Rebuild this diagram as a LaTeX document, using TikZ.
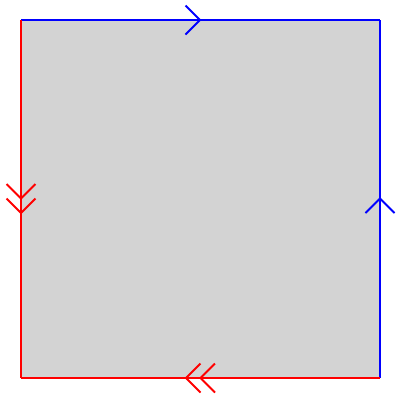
\documentclass[tikz,border=0pt]{standalone}
\usetikzlibrary{calc}
\definecolor{sqfill}{RGB}{211,211,211}
\definecolor{edgeblue}{RGB}{0,0,255}
\definecolor{edgered}{RGB}{255,0,0}
\tikzset{
  edgeline/.style={line width=2pt, line cap=butt},
  chev/.style={line width=1.8pt},
}
\begin{document}
\begin{tikzpicture}[x=1pt,y=-1pt]
\useasboundingbox (0,0) rectangle (400,400);
\coordinate (TL) at (21,20);
\coordinate (TR) at (380,20);
\coordinate (BR) at (380,378);
\coordinate (BL) at (21,378);
\fill[sqfill] (TL) -- (TR) -- (BR) -- (BL) -- cycle;
\draw[edgeline, edgeblue] (TL) -- (TR);
\draw[edgeline, edgeblue] (BR) -- (TR);
\draw[edgeline, edgered] (TL) -- (BL);
\draw[edgeline, edgered] (BR) -- (BL);
% top arrow (right)
\coordinate (ta) at (200,20);
\draw[chev, edgeblue] ($(ta)+(-14.5,-14.5)$) -- (ta) -- ($(ta)+(-14.5,14.5)$);
% right arrow (up)
\coordinate (ra) at (380,198.5);
\draw[chev, edgeblue] ($(ra)+(-14.5,14.5)$) -- (ra) -- ($(ra)+(14.5,14.5)$);
% left double arrow (down)
\coordinate (la1) at (21,198.5);
\coordinate (la2) at (21,213);
\draw[chev, edgered] ($(la1)+(-14.5,-14.5)$) -- (la1) -- ($(la1)+(14.5,-14.5)$);
\draw[chev, edgered] ($(la2)+(-14.5,-14.5)$) -- (la2) -- ($(la2)+(14.5,-14.5)$);
% bottom double arrow (left)
\coordinate (ba1) at (186,378);
\coordinate (ba2) at (200.5,378);
\draw[chev, edgered] ($(ba1)+(14.5,-14.5)$) -- (ba1) -- ($(ba1)+(14.5,14.5)$);
\draw[chev, edgered] ($(ba2)+(14.5,-14.5)$) -- (ba2) -- ($(ba2)+(14.5,14.5)$);
\end{tikzpicture}
\end{document}
